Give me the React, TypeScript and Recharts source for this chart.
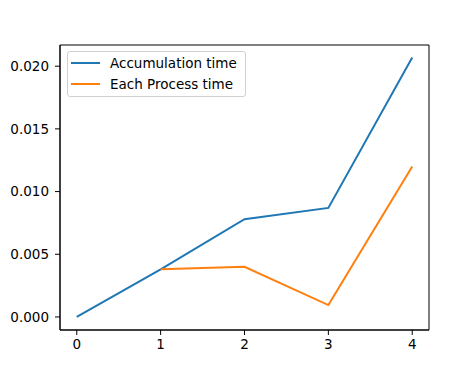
import { LineChart, Line, XAxis, YAxis, ReferenceArea } from "recharts";

const steps = [0, 1, 2, 3, 4];
const accumulationTime = [0, 0.0038, 0.0078, 0.0087, 0.0207];
const eachProcessTime = [null, 0.0038, 0.004, 0.00095, 0.012];
const xTicks = [0, 1, 2, 3, 4];
const yTicks = [0, 0.005, 0.01, 0.015, 0.02];

const xDomain: [number, number] = [-0.2, 4.2];
const yDomain: [number, number] = [-0.00104, 0.02169];

const data = steps.map((s, i) => ({
  step: s,
  acc: accumulationTime[i],
  each: eachProcessTime[i],
}));

const font = "DejaVu Sans, sans-serif";

function MplLegend() {
  const items = [
    { label: "Accumulation time", color: "#1f77b4" },
    { label: "Each Process time", color: "#ff7f0e" },
  ];
  return (
    <div
      style={{
        position: "absolute",
        left: 67,
        top: 51,
        border: "1px solid #d0d0d0",
        borderRadius: 3,
        background: "rgba(255,255,255,0.8)",
        padding: "1px 8px 2px 3px",
        fontFamily: font,
        fontSize: 13.5,
        color: "#000",
      }}
    >
      {items.map((it) => (
        <div
          key={it.label}
          style={{ display: "flex", alignItems: "center", height: 20.7 }}
        >
          <span
            style={{
              display: "inline-block",
              width: 29,
              height: 2,
              background: it.color,
              marginRight: 10,
            }}
          />
          <span>{it.label}</span>
        </div>
      ))}
    </div>
  );
}

export default function App() {
  return (
    <div style={{ position: "absolute", left: 0, top: 0, width: 476, height: 371, background: "#fff" }}>
      <LineChart
        width={476}
        height={371}
        data={data}
        margin={{ top: 45, right: 47, bottom: 11, left: 10 }}
      >
        <XAxis
          dataKey="step"
          type="number"
          domain={xDomain}
          ticks={xTicks}
          height={30}
          stroke="#000"
          tickSize={5}
          tickMargin={4}
          tick={{ fill: "#000", fontSize: 13.5, fontFamily: font }}
        />
        <YAxis
          type="number"
          domain={yDomain}
          ticks={yTicks}
          width={50}
          stroke="#000"
          tickSize={5}
          tickMargin={6}
          tickFormatter={(v: number) => v.toFixed(3)}
          tick={{ fill: "#000", fontSize: 13.5, fontFamily: font }}
        />
        <ReferenceArea
          x1={xDomain[0]}
          x2={xDomain[1]}
          y1={yDomain[0]}
          y2={yDomain[1]}
          fill="none"
          stroke="#000"
          strokeWidth={1}
          fillOpacity={0}
          ifOverflow="visible"
        />
        <Line
          dataKey="acc"
          stroke="#1f77b4"
          strokeWidth={2}
          dot={false}
          isAnimationActive={false}
        />
        <Line
          dataKey="each"
          stroke="#ff7f0e"
          strokeWidth={2}
          dot={false}
          isAnimationActive={false}
        />
      </LineChart>
      <MplLegend />
    </div>
  );
}
